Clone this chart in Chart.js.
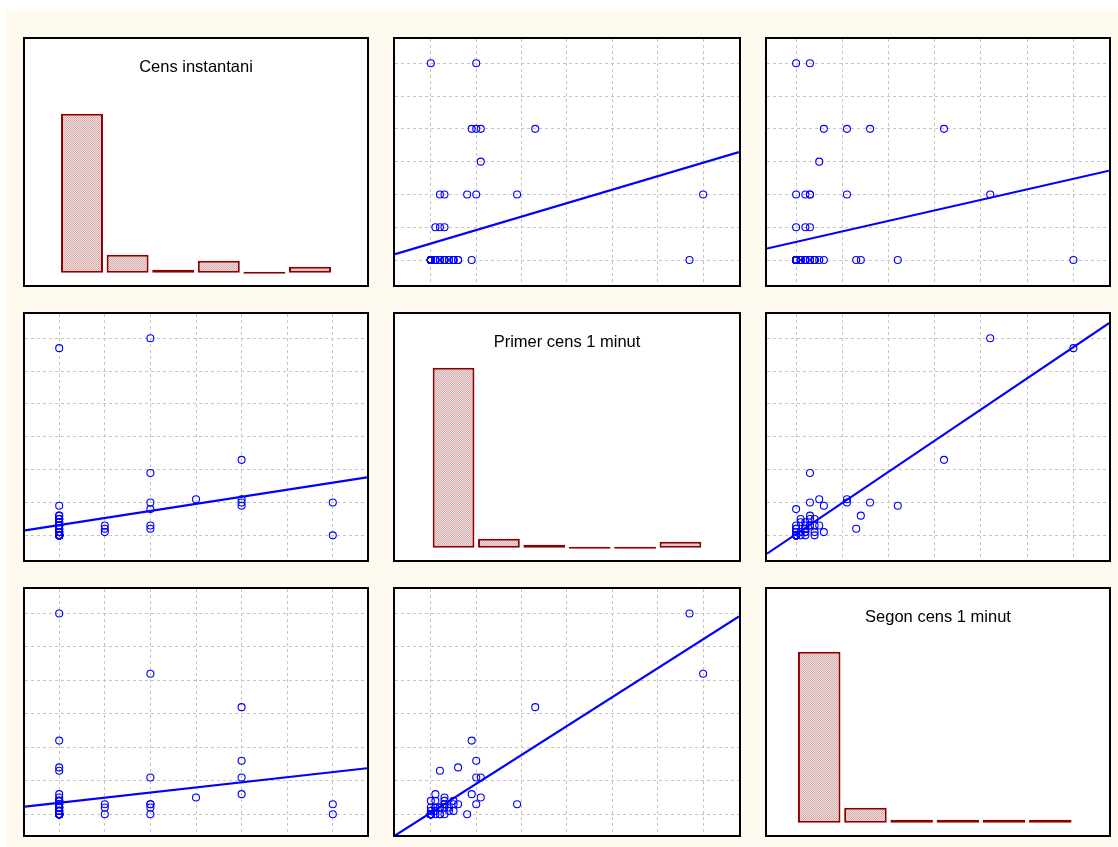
<!DOCTYPE html>
<html>
<head>
<meta charset="utf-8">
<title>Matriu de dispersió</title>
<script src="https://cdn.jsdelivr.net/npm/chart.js@4.4.0/dist/chart.umd.min.js"></script>
<style>
    body { margin: 0; width: 1118px; height: 847px; background: #fff; overflow: hidden; }
    #page { position: absolute; left: 6px; top: 9px; width: 1112px; height: 838px; background: #fffaf0; }
    .panel { position: absolute; box-sizing: border-box; border: 2px solid #000; background: #fff; }
    .panel canvas { display: block; }
</style>
</head>
<body>
<div id="page"></div>
<script>
// Variable names (diagonal of the matrix)
const varNames = ['Cens instantani', 'Primer cens 1 minut', 'Segon cens 1 minut'];

// One value per observation, same order in the three arrays (66 observations)
const censInstantani = [
    6, 6, 4, 4, 4, 4, 3, 2, 2, 2, 2, 2, 2, 1, 1, 1,
    0, 0, 0, 0, 0, 0,
    0, 0, 0, 0, 0, 0, 0, 0, 0, 0, 0, 0, 0, 0, 0, 0, 0, 0,
    0, 0, 0, 0, 0, 0, 0, 0, 0, 0, 0, 0, 0, 0, 0, 0, 0, 0, 0, 0, 0, 0, 0, 0, 0, 0
];
const primerCens = [
    0, 10, 23, 10, 11, 9, 11, 60, 10, 19, 8, 2, 3, 1, 2, 3,
    57, 9, 6, 2, 1, 3,
    1, 2, 3, 0, 1, 4, 5, 0, 1, 2, 3, 4, 5, 6, 0, 1, 3, 5,
    0, 0, 0, 0, 0, 0, 0, 0, 0, 0, 0, 0, 0, 0, 0, 0, 0, 0, 0, 0, 0, 0, 0, 0, 0, 0
];
const segonCens = [
    0, 3, 32, 16, 11, 6, 5, 42, 11, 3, 0, 2, 3, 2, 0, 3,
    60, 22, 14, 13, 6, 5,
    0, 0, 0, 1, 1, 1, 1, 2, 2, 2, 2, 2, 3, 3, 4, 4, 4, 4,
    0, 0, 0, 0, 0, 0, 0, 0, 0, 0, 0, 0, 0, 0, 0, 0, 0, 0, 0, 0, 0, 0, 0, 0, 0, 0
];

const variables = [censInstantani, primerCens, segonCens];

// Grid line spacing for each variable, and number of histogram bins
const gridSteps = [1, 10, 10];
const histBins = 6;

// Axis ranges used by each variable (horizontal / vertical)
const xRanges = [[-0.75, 6.75], [-7.9, 67.9], [-6.3, 67.7]];
const yRanges = [[-0.76, 6.74], [-7.5, 67.4], [-6.2, 67.3]];
const histRange = [-4.1, 77.9];

// Panel placement on the page
const colLeft = [23, 393, 765];
const colWidth = [346, 348, 346];
const rowTop = [37, 312, 587];
const rowHeight = 250;

const pointBlue = '#0000ff';
const barRed = '#8b0000';

// Hatched fill of the histogram bars
function hatchPattern() {
    const c = document.createElement('canvas');
    c.width = 2;
    c.height = 2;
    const g = c.getContext('2d');
    g.fillStyle = '#f3e0e0';
    g.fillRect(0, 0, 2, 2);
    g.fillStyle = '#d4abab';
    g.fillRect(0, 0, 1, 1);
    g.fillRect(1, 1, 1, 1);
    return g.createPattern(c, 'repeat');
}

// Least squares fit y = a + b x
function linearFit(xs, ys) {
    const n = xs.length;
    const mx = xs.reduce((s, v) => s + v, 0) / n;
    const my = ys.reduce((s, v) => s + v, 0) / n;
    let sxy = 0, sxx = 0;
    for (let i = 0; i < n; i++) {
        sxy += (xs[i] - mx) * (ys[i] - my);
        sxx += (xs[i] - mx) * (xs[i] - mx);
    }
    const b = sxy / sxx;
    return { a: my - b * mx, b: b };
}

function binCounts(values, step) {
    const counts = new Array(histBins).fill(0);
    values.forEach(v => {
        const k = v <= step ? 0 : Math.ceil(v / step) - 1;
        counts[Math.min(k, histBins - 1)]++;
    });
    return counts;
}

// Draws the variable name inside the diagonal panels
const panelTitle = {
    id: 'panelTitle',
    afterDraw(chart, args, opts) {
        if (!opts.text) return;
        const { ctx, chartArea } = chart;
        ctx.save();
        ctx.font = '16.5px "Liberation Sans", Arial, sans-serif';
        ctx.fillStyle = '#000';
        ctx.textAlign = 'center';
        ctx.textBaseline = 'middle';
        ctx.fillText(opts.text, (chartArea.left + chartArea.right) / 2, chartArea.top + 28.5);
        ctx.restore();
    }
};

function hiddenAxis(range, step, showGrid) {
    return {
        type: 'linear',
        min: range[0],
        max: range[1],
        offset: false,
        ticks: { display: false, stepSize: step, includeBounds: false },
        grid: { display: showGrid, offset: false, drawTicks: false, color: '#c4c4c4', lineWidth: 1 },
        border: { display: false, dash: [3, 3] }
    };
}

function makePanel(row, col) {
    const div = document.createElement('div');
    div.className = 'panel';
    div.style.left = colLeft[col] + 'px';
    div.style.top = rowTop[row] + 'px';
    div.style.width = colWidth[col] + 'px';
    div.style.height = rowHeight + 'px';
    const canvas = document.createElement('canvas');
    div.appendChild(canvas);
    document.body.appendChild(div);
    return canvas.getContext('2d');
}

const baseOptions = {
    responsive: true,
    maintainAspectRatio: false,
    animation: false,
    layout: { padding: 0, autoPadding: false },
    plugins: { legend: { display: false }, tooltip: { enabled: false } }
};

function histogramChart(ctx, j) {
    const step = gridSteps[j];
    const counts = binCounts(variables[j], step);
    return new Chart(ctx, {
        type: 'bar',
        data: {
            datasets: [{
                data: counts.map((c, k) => ({ x: (k + 0.5) * step, y: c })),
                backgroundColor: hatchPattern(),
                borderColor: barRed,
                borderWidth: 2,
                borderSkipped: false,
                minBarLength: 2,
                barPercentage: 1,
                categoryPercentage: 0.92
            }]
        },
        options: {
            ...baseOptions,
            scales: {
                x: hiddenAxis(xRanges[j], step, false),
                y: hiddenAxis(histRange, 10, false)
            },
            plugins: { ...baseOptions.plugins, panelTitle: { text: varNames[j] } }
        },
        plugins: [panelTitle]
    });
}

function scatterChart(ctx, i, j) {
    const xs = variables[j];
    const ys = variables[i];
    const fit = linearFit(xs, ys);
    const x0 = xRanges[j][0];
    const x1 = xRanges[j][1];
    return new Chart(ctx, {
        type: 'scatter',
        data: {
            datasets: [
                {
                    type: 'line',
                    data: [{ x: x0, y: fit.a + fit.b * x0 }, { x: x1, y: fit.a + fit.b * x1 }],
                    borderColor: pointBlue,
                    borderWidth: 2.2,
                    pointRadius: 0,
                    fill: false
                },
                {
                    data: xs.map((x, k) => ({ x: x, y: ys[k] })),
                    borderColor: pointBlue,
                    backgroundColor: 'rgba(255,255,255,0)',
                    borderWidth: 1.1,
                    pointRadius: 3.5
                }
            ]
        },
        options: {
            ...baseOptions,
            scales: {
                x: hiddenAxis(xRanges[j], gridSteps[j], true),
                y: hiddenAxis(yRanges[i], gridSteps[i], true)
            }
        }
    });
}

// Row i shows variable i vertically, column j variable j horizontally
for (let i = 0; i < 3; i++) {
    for (let j = 0; j < 3; j++) {
        const ctx = makePanel(i, j);
        if (i === j) {
            histogramChart(ctx, j);
        } else {
            scatterChart(ctx, i, j);
        }
    }
}
</script>
</body>
</html>
